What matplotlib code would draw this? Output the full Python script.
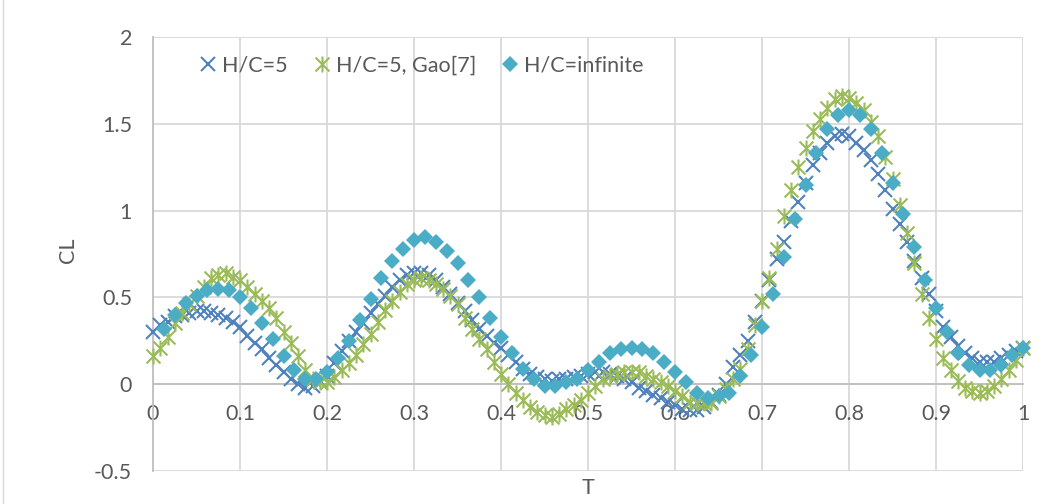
import numpy as np
import matplotlib
matplotlib.use("Agg")
import matplotlib.pyplot as plt
from matplotlib.path import Path

plt.rcParams['font.family'] = ['Lato', 'DejaVu Sans']

# ---------------- data ----------------
series_labels = ["H/C=5", "H/C=5, Gao[7]", "H/C=infinite"]

# sample times (uniform output steps of the runs)
t_hc5 = np.arange(0, 121) / 120.0
t_gao = np.arange(0, 121) / 120.0
t_inf = np.arange(1, 81) / 80.0

cl_hc5 = [
    0.30, 0.34, 0.36, 0.39, 0.40, 0.41, 0.42, 0.42, 0.41, 0.40,
    0.38, 0.36, 0.33, 0.28, 0.24, 0.20, 0.15, 0.11, 0.07, 0.03,
    0.00, -0.02, -0.01, 0.02, 0.05, 0.12, 0.19, 0.25, 0.30, 0.35,
    0.41, 0.46, 0.51, 0.56, 0.60, 0.63, 0.64, 0.64, 0.63, 0.60,
    0.56, 0.52, 0.47, 0.42, 0.37, 0.32, 0.28, 0.24, 0.21, 0.17,
    0.13, 0.09, 0.06, 0.04, 0.03, 0.02, 0.03, 0.03, 0.04, 0.05,
    0.06, 0.07, 0.07, 0.06, 0.05, 0.03, 0.01, -0.02, -0.04, -0.06,
    -0.08, -0.10, -0.12, -0.14, -0.15, -0.15, -0.13, -0.10, -0.06, 0.00,
    0.10, 0.17, 0.25, 0.36, 0.48, 0.60, 0.72, 0.82, 0.94, 1.05,
    1.16, 1.26, 1.33, 1.39, 1.43, 1.44, 1.43, 1.39, 1.35, 1.29,
    1.21, 1.12, 1.01, 0.92, 0.82, 0.71, 0.61, 0.52, 0.42, 0.33,
    0.27, 0.22, 0.18, 0.15, 0.13, 0.13, 0.13, 0.15, 0.17, 0.19,
    0.21,
]

cl_gao = [
    0.16, 0.21, 0.27, 0.35, 0.41, 0.46, 0.51, 0.56, 0.61, 0.63,
    0.64, 0.62, 0.60, 0.56, 0.52, 0.48, 0.44, 0.38, 0.30, 0.24,
    0.16, 0.08, 0.03, 0.01, 0.01, 0.04, 0.08, 0.12, 0.17, 0.23,
    0.29, 0.36, 0.43, 0.48, 0.53, 0.58, 0.60, 0.61, 0.60, 0.58,
    0.55, 0.51, 0.46, 0.38, 0.32, 0.26, 0.20, 0.13, 0.06, 0.00,
    -0.05, -0.09, -0.13, -0.16, -0.18, -0.19, -0.17, -0.14, -0.12, -0.09,
    -0.05, -0.01, 0.03, 0.05, 0.06, 0.07, 0.07, 0.07, 0.05, 0.03,
    0.01, -0.01, -0.04, -0.07, -0.10, -0.11, -0.11, -0.11, -0.07, -0.03,
    0.03, 0.09, 0.20, 0.34, 0.48, 0.61, 0.78, 0.97, 1.12, 1.25,
    1.36, 1.46, 1.53, 1.59, 1.64, 1.66, 1.65, 1.62, 1.58, 1.51,
    1.43, 1.31, 1.18, 1.03, 0.87, 0.70, 0.52, 0.38, 0.26, 0.15,
    0.08, 0.02, -0.02, -0.04, -0.05, -0.04, -0.01, 0.03, 0.08, 0.14,
    0.21,
]

cl_inf = [
    0.32, 0.40, 0.47, 0.51, 0.54, 0.55, 0.54, 0.50, 0.44, 0.35,
    0.26, 0.16, 0.08, 0.03, 0.03, 0.07, 0.15, 0.25, 0.37, 0.49,
    0.61, 0.71, 0.78, 0.83, 0.85, 0.82, 0.77, 0.70, 0.60, 0.50,
    0.38, 0.27, 0.18, 0.09, 0.03, -0.01, -0.01, 0.01, 0.03, 0.08,
    0.13, 0.18, 0.20, 0.21, 0.20, 0.18, 0.13, 0.07, 0.01, -0.05,
    -0.08, -0.07, -0.05, 0.05, 0.17, 0.33, 0.52, 0.73, 0.95, 1.15,
    1.33, 1.47, 1.55, 1.58, 1.55, 1.47, 1.33, 1.16, 0.98, 0.79,
    0.60, 0.44, 0.30, 0.18, 0.11, 0.08, 0.08, 0.11, 0.17, 0.21,
]

x_ticks = [0, 0.1, 0.2, 0.3, 0.4, 0.5, 0.6, 0.7, 0.8, 0.9, 1]
x_ticklabels = ["0", "0.1", "0.2", "0.3", "0.4", "0.5", "0.6", "0.7", "0.8", "0.9", "1"]
y_ticks = [-0.5, 0, 0.5, 1, 1.5, 2]
y_ticklabels = ["-0.5", "0", "0.5", "1", "1.5", "2"]

# ---------------- style ----------------
C_BLUE = "#4F81BD"
C_GREEN = "#9BBB59"
C_AQUA = "#4BACC6"
TXT = "#595959"
GRID = "#D9D9D9"
AXIS = "#BFBFBF"
FS = 15.5

W, H = 1057, 504
fig = plt.figure(figsize=(W / 100, H / 100), dpi=100)
ax = fig.add_axes([153 / W, 33 / H, 870 / W, 434 / H])

star = Path([(-1, -1), (1, 1), (-1, 1), (1, -1), (0, -1.15), (0, 1.15)],
            [Path.MOVETO, Path.LINETO, Path.MOVETO, Path.LINETO, Path.MOVETO, Path.LINETO])

h1, = ax.plot(t_hc5, cl_hc5, linestyle="none", marker="x", markersize=10.5,
              markeredgewidth=1.5, color=C_BLUE, clip_on=False, zorder=3,
              label=series_labels[0])
h2, = ax.plot(t_gao, cl_gao, linestyle="none", marker=star, markersize=11.5,
              markeredgewidth=1.5, color=C_GREEN, markerfacecolor="none",
              clip_on=False, zorder=4, label=series_labels[1])
h3, = ax.plot(t_inf, cl_inf, linestyle="none", marker="D", markersize=8.5,
              markeredgewidth=0, color=C_AQUA, clip_on=False, zorder=5,
              label=series_labels[2])

ax.set_xlim(0, 1)
ax.set_ylim(-0.5, 2)
ax.set_xticks(x_ticks)
ax.set_xticklabels(x_ticklabels)
ax.set_yticks(y_ticks)
ax.set_yticklabels(y_ticklabels)
ax.tick_params(axis="both", length=0, labelsize=FS, labelcolor=TXT)
ax.tick_params(axis="x", pad=14)
ax.tick_params(axis="y", pad=15)

ax.grid(True, color=GRID, linewidth=1.3, zorder=0)
ax.set_axisbelow(True)
for s in ("top", "right"):
    ax.spines[s].set_visible(False)
ax.spines["bottom"].set_position(("data", 0))
ax.spines["bottom"].set_color(AXIS)
ax.spines["bottom"].set_linewidth(1.3)
ax.spines["left"].set_color(AXIS)
ax.spines["left"].set_linewidth(1.3)

fig.text(68 / W, 1 - 250 / H, "CL", rotation=90, ha="center", va="center",
         fontsize=FS, color=TXT)
fig.text(588 / W, 1 - 488 / H, "T", ha="center", va="center",
         fontsize=FS, color=TXT)

fig.legend(handles=[h1, h2, h3], loc="center left",
           bbox_to_anchor=(199 / W, 1 - 66 / H), ncol=3, frameon=False,
           borderpad=0, borderaxespad=0, handlelength=0.8, handletextpad=0.25,
           columnspacing=1.2, fontsize=FS, labelcolor=TXT)

# chart-area border (left edge visible in reference)
fig.add_artist(plt.Line2D([3 / W, 3 / W], [0, 1], color=GRID, linewidth=1.0,
                          transform=fig.transFigure))

fig.savefig("out.png", dpi=100)
